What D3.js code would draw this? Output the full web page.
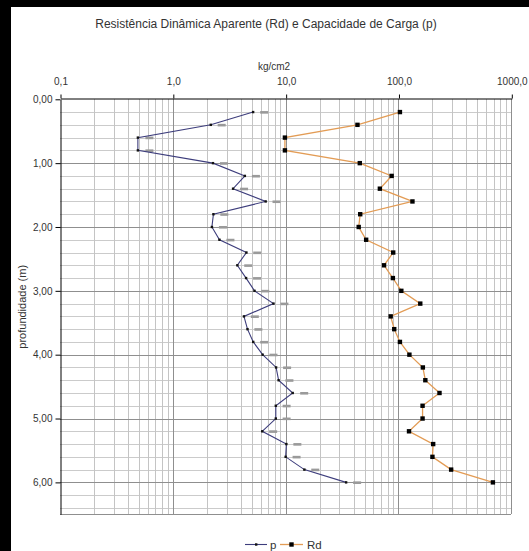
<!DOCTYPE html>
<html>
<head>
<meta charset="utf-8">
<script src="https://cdn.jsdelivr.net/npm/d3@7"></script>
<style>
  html, body { margin: 0; padding: 0; background: #fff; }
  svg { display: block; font-family: "Liberation Sans", Arial, sans-serif; }
</style>
</head>
<body>
<svg id="chart" width="529" height="551"></svg>
<script>
// Depth of each reading (m)
const depths = [0.2, 0.4, 0.6, 0.8, 1.0, 1.2, 1.4, 1.6, 1.8, 2.0,
                2.2, 2.4, 2.6, 2.8, 3.0, 3.2, 3.4, 3.6, 3.8, 4.0,
                4.2, 4.4, 4.6, 4.8, 5.0, 5.2, 5.4, 5.6, 5.8, 6.0];
// Apparent dynamic resistance Rd (kg/cm2)
const rdValues = [103, 43.3, 9.85, 9.85, 45.4, 87, 68.4, 133, 45.8, 44.4,
                  51.7, 89.8, 74.5, 89.2, 106, 156, 85.3, 91.7, 103, 125,
                  164.5, 173, 231, 163.5, 163.5, 124, 203, 200, 293, 687];
// Load capacity p (kg/cm2)
const pValues = [5.15, 2.17, 0.49, 0.49, 2.27, 4.35, 3.42, 6.65, 2.29, 2.22,
                 2.59, 4.49, 3.73, 4.46, 5.3, 7.8, 4.27, 4.59, 5.16, 6.25,
                 8.23, 8.66, 11.55, 8.18, 8.18, 6.2, 10.15, 10.0, 14.65, 34.35];
// Auxiliary reference readings (grey dash markers, no legend entry)
const auxValues = [6.45, 2.71, 0.62, 0.62, 2.84, 5.45, 4.28, 8.3, 2.86, 2.78,
                   3.24, 5.6, 4.66, 5.58, 6.6, 9.75, 5.33, 5.73, 6.45, 7.8,
                   10.3, 10.8, 14.6, 10.2, 10.2, 7.75, 12.7, 12.5, 18.3, 43];

const xTickValues = [0.1, 1, 10, 100, 1000];
const xTickLabels = ["0,1", "1,0", "10,0", "100,0", "1000,0"];
const yTickValues = [0, 1, 2, 3, 4, 5, 6];
const yTickLabels = ["0,00", "1,00", "2,00", "3,00", "4,00", "5,00", "6,00"];

const titleText = "Resistência Dinâmica Aparente (Rd) e Capacidade de Carga (p)";
const xTitle = "kg/cm2";
const yTitle = "profundidade (m)";
const seriesNames = ["p", "Rd"];

const svg = d3.select("#chart");
const W = 529, H = 551;

const plotL = 60, plotR = 511.3, plotT = 99.3, plotB = 514.3;
const x = d3.scaleLog().domain([0.1, 1000]).range([plotL, plotR]);
const y = d3.scaleLinear().domain([0, 6.5]).range([plotT, plotB]);

svg.append("rect").attr("width", W).attr("height", H).attr("fill", "#fff");

// Grid: minor verticals (2..9 within each decade), horizontals every 0.2 m
const minorX = [];
[0.1, 1, 10, 100].forEach(d => { for (let k = 2; k <= 9; k++) minorX.push(d * k); });
const minorY = d3.range(1, 33).map(i => +(i * 0.2).toFixed(1)).filter(v => Math.abs(v - Math.round(v)) > 1e-6);

const px = v => Math.round(v) + 0.5;
const grid = svg.append("g").attr("shape-rendering", "crispEdges");
grid.selectAll(".hmin").data(minorY).join("line")
  .attr("x1", plotL).attr("x2", plotR)
  .attr("y1", d => px(y(d))).attr("y2", d => px(y(d)))
  .attr("stroke", "#cbcbcb");
grid.selectAll(".vmin").data(minorX).join("line")
  .attr("y1", plotT).attr("y2", plotB)
  .attr("x1", d => px(x(d))).attr("x2", d => px(x(d)))
  .attr("stroke", "#c4c4c4");
grid.selectAll(".hmaj").data(yTickValues.slice(1)).join("line")
  .attr("x1", plotL).attr("x2", plotR)
  .attr("y1", d => px(y(d))).attr("y2", d => px(y(d)))
  .attr("stroke", "#8f8f8f");
grid.selectAll(".vmaj").data(xTickValues.slice(1)).join("line")
  .attr("y1", plotT).attr("y2", plotB)
  .attr("x1", d => px(x(d))).attr("x2", d => px(x(d)))
  .attr("stroke", "#8f8f8f");

// Bottom edge of the plot frame
grid.append("line").attr("x1", plotL).attr("x2", plotR)
  .attr("y1", px(plotB)).attr("y2", px(plotB)).attr("stroke", "#8f8f8f");

// Axes
const xAxis = d3.axisTop(x).tickValues(xTickValues)
  .tickFormat((d, i) => xTickLabels[i]).tickSize(4).tickSizeOuter(0).tickPadding(10);
const yAxis = d3.axisLeft(y).tickValues(yTickValues)
  .tickFormat((d, i) => yTickLabels[i]).tickSize(5).tickSizeOuter(0).tickPadding(3);

const gx = svg.append("g").attr("transform", `translate(0.5,${Math.round(plotT) - 0.5})`).call(xAxis);
const gy = svg.append("g").attr("transform", `translate(${Math.round(plotL) + 0.5},0)`).call(yAxis);
[gx, gy].forEach(g => {
  g.selectAll("path.domain").attr("stroke", "#000");
  g.selectAll(".tick line").attr("stroke", "#000");
  g.selectAll(".tick text").attr("fill", "#333").attr("font-size", 10)
    .attr("font-family", "'Liberation Sans', Arial, sans-serif");
});

// Aux grey dashes
svg.append("g").selectAll("rect").data(depths).join("rect")
  .attr("x", (d, i) => x(auxValues[i]) - 4).attr("y", d => y(d) - 1)
  .attr("width", 8).attr("height", 2.6).attr("fill", "#9a9a9a");

// Series lines
const pLine = d3.line().x((d, i) => x(pValues[i])).y(d => y(d));
const rdLine = d3.line().x((d, i) => x(rdValues[i])).y(d => y(d));

svg.append("path").datum(depths).attr("d", pLine)
  .attr("fill", "none").attr("stroke", "#3d3d7c").attr("stroke-width", 1.1);
svg.append("path").datum(depths).attr("d", rdLine)
  .attr("fill", "none").attr("stroke", "#e39c55").attr("stroke-width", 1.3);

svg.append("g").selectAll("rect").data(depths).join("rect")
  .attr("x", (d, i) => x(pValues[i]) - 1.2).attr("y", d => y(d) - 1.2)
  .attr("width", 2.4).attr("height", 2.4).attr("fill", "#111");
svg.append("g").selectAll("rect").data(depths).join("rect")
  .attr("x", (d, i) => x(rdValues[i]) - 2.2).attr("y", d => y(d) - 2.2)
  .attr("width", 4.4).attr("height", 4.4).attr("fill", "#000");

// Titles
svg.append("text").attr("x", 266).attr("y", 28).attr("text-anchor", "middle")
  .attr("font-size", 12).attr("fill", "#333").text(titleText);
svg.append("text").attr("x", 274).attr("y", 70).attr("text-anchor", "middle")
  .attr("font-size", 10).attr("fill", "#333").text(xTitle);
svg.append("text").attr("transform", `translate(26,${(plotT + plotB) / 2}) rotate(-90)`)
  .attr("text-anchor", "middle").attr("font-size", 11).attr("fill", "#333").text(yTitle);

// Legend
const lg = svg.append("g");
lg.append("line").attr("x1", 245).attr("x2", 267).attr("y1", 544.5).attr("y2", 544.5)
  .attr("stroke", "#3d3d7c").attr("stroke-width", 1.1);
lg.append("rect").attr("x", 255).attr("y", 543.3).attr("width", 2.4).attr("height", 2.4).attr("fill", "#111");
lg.append("text").attr("x", 270).attr("y", 548.5).attr("font-size", 11.5).attr("fill", "#333").text(seriesNames[0]);
lg.append("line").attr("x1", 280).attr("x2", 303).attr("y1", 544.5).attr("y2", 544.5)
  .attr("stroke", "#e39c55").attr("stroke-width", 1.3);
lg.append("rect").attr("x", 289.3).attr("y", 542.3).attr("width", 4.4).attr("height", 4.4).attr("fill", "#000");
lg.append("text").attr("x", 307).attr("y", 548.5).attr("font-size", 11.5).attr("fill", "#333").text(seriesNames[1]);

// Dark outer edges of the framed page
svg.append("rect").attr("x", 0).attr("y", 0).attr("width", W).attr("height", 7).attr("fill", "#000");
svg.append("rect").attr("x", 0).attr("y", 0).attr("width", 11).attr("height", H).attr("fill", "#000");
</script>
</body>
</html>
